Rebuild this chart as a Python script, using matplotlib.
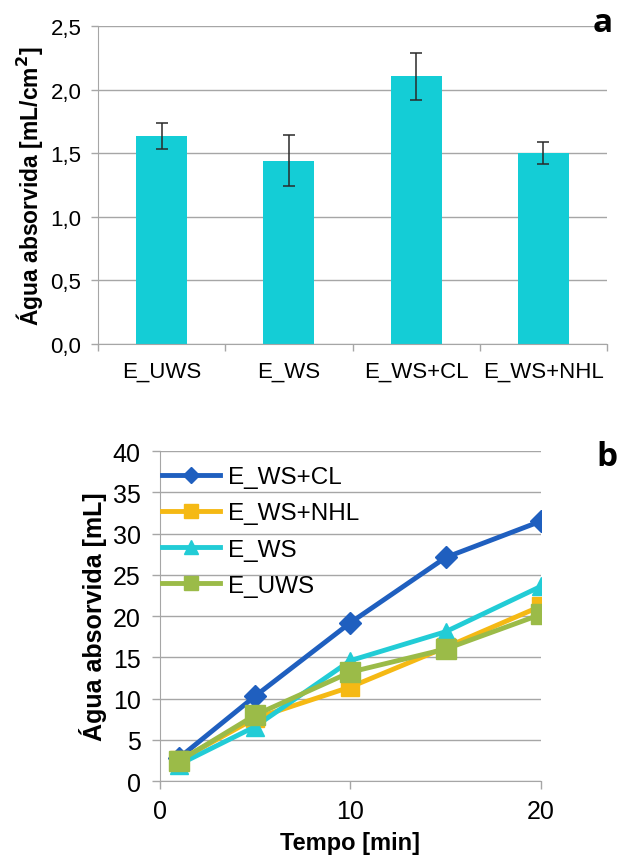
import numpy as np
import matplotlib.pyplot as plt

plt.rcParams["font.family"] = ["Liberation Sans", "DejaVu Sans"]

# =========================================================
# Data
# =========================================================

# panel a: water absorbed per area
cats_a = ["E_UWS", "E_WS", "E_WS+CL", "E_WS+NHL"]
vals_a = [1.635, 1.44, 2.105, 1.50]
err_a = [0.106, 0.20, 0.185, 0.084]

# panel b: water absorbed over time
tempo = [1, 5, 10, 15, 20]
ws_cl = [2.8, 10.3, 19.2, 27.1, 31.5]
ws_nhl = [2.5, 7.6, 11.4, 16.2, 21.2]
ws = [2.0, 6.6, 14.6, 18.1, 23.6]
uws = [2.4, 8.0, 13.2, 16.0, 20.2]

GRID = "#a6a6a6"

fig = plt.figure(figsize=(6.22, 8.62), dpi=100)

# =========================================================
# Panel a
# =========================================================
ax1 = fig.add_axes([0.1576, 0.5998, 0.8183, 0.3689])
x = np.arange(len(cats_a))
ax1.bar(x, vals_a, width=0.4, color="#14cdd6", zorder=2)
ax1.errorbar(x, vals_a, yerr=err_a, fmt="none", ecolor="#2a2a2a",
             elinewidth=1.1, capsize=4.5, capthick=1.1, zorder=3)

ax1.set_xlim(-0.5, 3.5)
ax1.set_ylim(0, 2.5)
yt = np.arange(0, 2.51, 0.5)
ax1.set_yticks(yt)
ax1.set_yticklabels([f"{v:.1f}".replace(".", ",") for v in yt])
ax1.set_xticks(x)
ax1.set_xticklabels(cats_a)
ax1.set_xticks(np.arange(-0.5, 3.6, 1), minor=True)
ax1.tick_params(axis="x", which="major", length=0, pad=12, labelsize=16)
ax1.tick_params(axis="x", which="minor", length=5, color=GRID, width=1)
ax1.tick_params(axis="y", length=5, color=GRID, width=1, labelsize=16, pad=7)
ax1.grid(axis="y", color=GRID, linewidth=1, zorder=0)
ax1.set_axisbelow(True)
for s in ["top", "right"]:
    ax1.spines[s].set_visible(False)
ax1.spines["bottom"].set_color(GRID)
ax1.spines["left"].set_color(GRID)
ax1.set_ylabel("Água absorvida [mL/cm$^\\mathbf{2}$]", fontsize=16.5, fontweight="bold",
               labelpad=4)

fig.text(0.9695, 0.9733, "a", fontsize=24, fontweight="bold", ha="center", va="center",
         family=["Open Sans", "DejaVu Sans"])

# =========================================================
# Panel b
# =========================================================
ax2 = fig.add_axes([0.2572, 0.0928, 0.6125, 0.3828])
ax2.plot(tempo, ws_cl, color="#1f5fbf", marker="D", markersize=11, linewidth=3.5,
         label="E_WS+CL", zorder=3)
ax2.plot(tempo, ws_nhl, color="#f5b914", marker="s", markersize=13, linewidth=3.5,
         label="E_WS+NHL", zorder=3)
ax2.plot(tempo, ws, color="#22ccd6", marker="^", markersize=13, linewidth=3.5,
         label="E_WS", zorder=3)
ax2.plot(tempo, uws, color="#9bbb48", marker="s", markersize=14, linewidth=3.5,
         label="E_UWS", zorder=3)

ax2.set_xlim(0, 20)
ax2.set_ylim(0, 40)
ax2.set_xticks([0, 10, 20])
ax2.set_yticks(np.arange(0, 41, 5))
ax2.tick_params(axis="x", length=6, color=GRID, width=1, labelsize=18, pad=7)
ax2.tick_params(axis="y", length=6, color=GRID, width=1, labelsize=18, pad=8)
ax2.grid(axis="y", color=GRID, linewidth=1, zorder=0)
ax2.set_axisbelow(True)
for s in ["top", "right"]:
    ax2.spines[s].set_visible(False)
ax2.spines["bottom"].set_color(GRID)
ax2.spines["left"].set_color(GRID)
ax2.set_xlabel("Tempo [min]", fontsize=17, fontweight="bold", labelpad=6)
ax2.set_ylabel("Água absorvida [mL]", fontsize=18, fontweight="bold", labelpad=4)

leg = ax2.legend(loc="upper left", bbox_to_anchor=(-0.02, 0.983), frameon=False,
                 fontsize=17.5, handlelength=2.4, handletextpad=0.3, labelspacing=0.58,
                 borderaxespad=0, markerscale=0.75)

fig.text(0.976, 0.4687, "b", fontsize=24, fontweight="bold", ha="center", va="center",
         family=["Open Sans", "DejaVu Sans"])

fig.savefig("out.png", dpi=100)
